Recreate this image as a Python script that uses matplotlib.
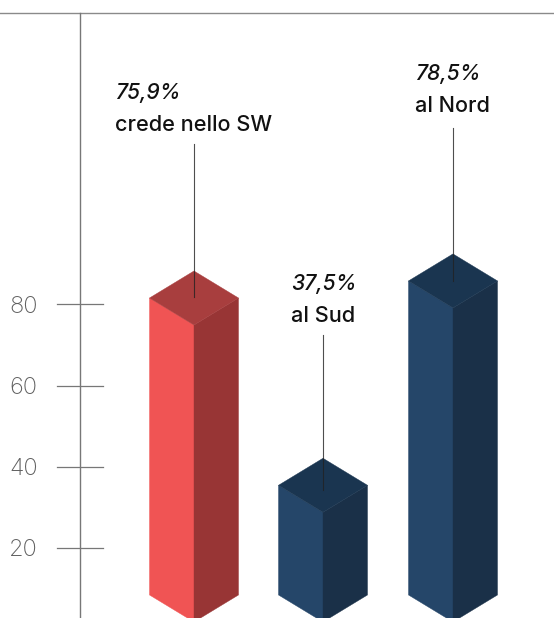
import matplotlib
matplotlib.use('Agg')
import matplotlib.pyplot as plt

labels = ['crede nello SW', 'al Sud', 'al Nord']
percents = ['75,9%', '37,5%', '78,5%']
# bar tops as read against the axis (front side corners)
heights = [81.6, 35.5, 85.8]
base = 8.5
yticks = [20, 40, 60, 80]

centers = [194, 323, 453]
half_w = 44.5
depth = 6.65  # axis units for the slanted top/bottom

front = ['#F05454', '#254669', '#254669']
side = ['#983535', '#1A3048', '#1A3048']
top = ['#A83E3E', '#1A3550', '#1A3550']

label_dx = [-79, -32, -38]
label_dy = [167, 163, 169]
leader_up = [154, 150, 153]
leader_down = [-1, 5, 0]

fig = plt.figure(figsize=(5.54, 6.18), dpi=100)
ax = fig.add_axes([0, 0, 1, 1])
ax.set_xlim(0, 554)
ax.set_ylim(80 - 313.5 / 4.0625, 80 + 304.5 / 4.0625)
ax.axis('off')

y_top = ax.get_ylim()[1] - 13.5 / 4.0625
line_c = '#8a8a8a'
ax.plot([0, 554], [y_top, y_top], color=line_c, lw=1)
ax.plot([80, 80], [ax.get_ylim()[0], y_top], color='#777777', lw=1)
for t in yticks:
    ax.plot([57, 103], [t, t], color='#777777', lw=0.9)
    ax.text(23.5, t + 0.1, str(t), ha='center', va='center_baseline', fontsize=17,
            color='#606060', family='Inter', fontweight='light')

for i, x in enumerate(centers):
    h = heights[i]
    l, r = x - half_w, x + half_w
    ax.fill([l, x, x, l], [h, h - depth, base - depth, base], fc=front[i], ec=front[i], lw=0.3)
    ax.fill([x, r, r, x], [h - depth, h, base, base - depth], fc=side[i], ec=side[i], lw=0.3)
    ax.fill([l, x, r, x], [h, h + depth, h, h - depth], fc=top[i], ec=top[i], lw=0.3)

    y0 = h - leader_down[i] / 4.0625
    y1 = h + leader_up[i] / 4.0625
    ax.plot([x, x], [y0, y1], color='#222222', lw=0.8, alpha=0.8)

    ax.annotate(labels[i], (x, h), xytext=(label_dx[i], label_dy[i]),
                textcoords='offset pixels', fontsize=15.6, color='#111111',
                family='Inter', fontweight='medium', va='baseline')
    ax.annotate(percents[i], (x, h), xytext=(label_dx[i], label_dy[i] + 32),
                textcoords='offset pixels', fontsize=15.2, color='#111111',
                family='Inter', style='italic', fontweight='medium', va='baseline')

fig.savefig('out.png', dpi=100)
